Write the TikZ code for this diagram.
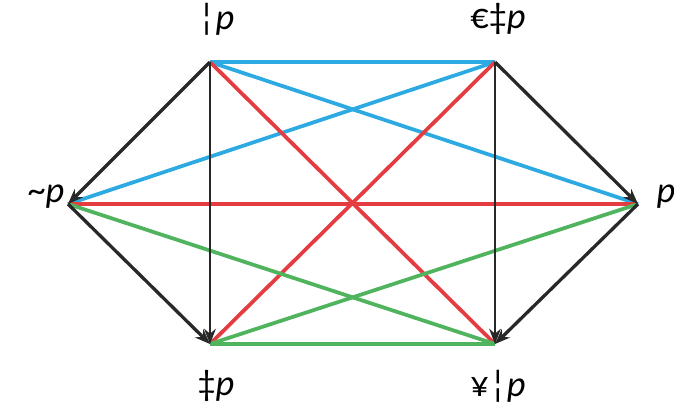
\documentclass[tikz,border=0pt]{standalone}
\usepackage{fontspec}
\setmainfont{Carlito}
\usepackage{xcolor}
\definecolor{hexblue}{RGB}{45, 170, 225}
\definecolor{hexred}{RGB}{228, 60, 64}
\definecolor{hexgreen}{RGB}{80, 180, 95}
\definecolor{hexblack}{RGB}{40, 40, 40}
\usetikzlibrary{arrows.meta}

\begin{document}
\begin{tikzpicture}[
    x=0.03cm, y=-0.03cm,
    >={Stealth[length=13pt, width=10pt]},
    edge/.style={line width=3.2pt},
    arrow/.style={->, line width=2.8pt, hexblack},
    lab/.style={font=\fontsize{31}{34}\selectfont, inner sep=0pt}
]
\useasboundingbox (0,0) rectangle (674,410);

% Vertices of the hexagon
\coordinate (tl) at (210,62);
\coordinate (tr) at (495,62);
\coordinate (ml) at (68,204);
\coordinate (mr) at (638,204);
\coordinate (bl) at (210,344);
\coordinate (br) at (495,344);

% Blue lines
\draw[edge, hexblue] (tl) -- (tr);
\draw[edge, hexblue] (tl) -- (mr);
\draw[edge, hexblue] (tr) -- (ml);

% Red lines
\draw[edge, hexred] (tl) -- (br);
\draw[edge, hexred] (tr) -- (bl);
\draw[edge, hexred] (ml) -- (mr);

% Green lines
\draw[edge, hexgreen] (bl) -- (br);
\draw[edge, hexgreen] (ml) -- (br);
\draw[edge, hexgreen] (bl) -- (mr);

% Black arrows
\draw[arrow] (tl) -- (ml);
\draw[arrow, line width=1.8pt] (tl) -- (bl);
\draw[arrow] (ml) -- (bl);
\draw[arrow] (tr) -- (mr);
\draw[arrow, line width=1.8pt] (tr) -- (br);
\draw[arrow] (mr) -- (br);

% Labels
\node[lab] (ltl) at (216,19) {¦\textit{p}};
\node[lab] (ltr) at (498,19) {€‡\textit{p}};
\node[lab] (lml) at (46,197) {\textasciitilde\textit{p}};
\node[lab] (lmr) at (666,197) {\textit{p}};
\node[lab] (lbl) at (216,386) {‡\textit{p}};
\node[lab] (lbr) at (498,386) {¥¦\textit{p}};
\end{tikzpicture}
\end{document}
